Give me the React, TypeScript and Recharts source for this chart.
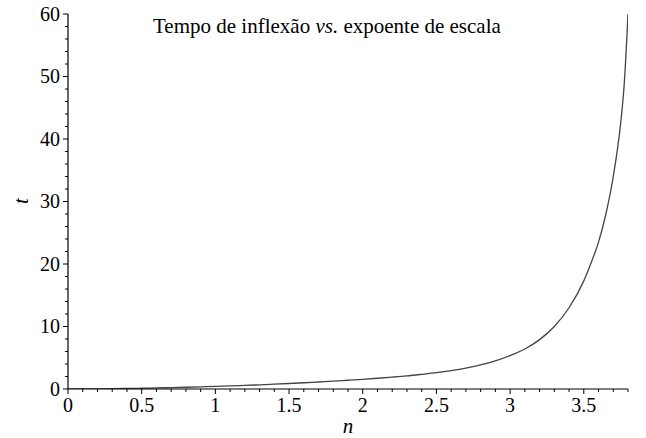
import React from 'react';
import { LineChart, Line, XAxis, YAxis } from 'recharts';

const nValues = [0, 0.1, 0.2, 0.3, 0.4, 0.5, 0.6, 0.7, 0.8, 0.9, 1.0, 1.1, 1.2, 1.3, 1.4, 1.5, 1.6, 1.7, 1.8, 1.9, 2.0, 2.1, 2.2, 2.3, 2.4, 2.5, 2.6, 2.7, 2.8, 2.9, 3.0, 3.1, 3.2, 3.3, 3.4, 3.5, 3.55, 3.6, 3.65, 3.7, 3.75, 3.775, 3.8];
const tValues = [0, 0.01, 0.03, 0.05, 0.08, 0.12, 0.17, 0.22, 0.28, 0.35, 0.42, 0.5, 0.58, 0.67, 0.77, 0.88, 1.0, 1.12, 1.25, 1.4, 1.55, 1.72, 1.9, 2.1, 2.35, 2.62, 2.95, 3.35, 3.85, 4.5, 5.35, 6.4, 7.9, 10.0, 13.0, 17.3, 20.2, 23.5, 28, 34, 42.5, 49, 60];

const xTicks = [0, 0.1, 0.2, 0.3, 0.4, 0.5, 0.6, 0.7, 0.8, 0.9, 1, 1.1, 1.2, 1.3, 1.4, 1.5, 1.6, 1.7, 1.8, 1.9, 2, 2.1, 2.2, 2.3, 2.4, 2.5, 2.6, 2.7, 2.8, 2.9, 3, 3.1, 3.2, 3.3, 3.4, 3.5, 3.6, 3.7, 3.8];
const xMajor = [0, 0.5, 1, 1.5, 2, 2.5, 3, 3.5];
const yTicks = [0, 2, 4, 6, 8, 10, 12, 14, 16, 18, 20, 22, 24, 26, 28, 30, 32, 34, 36, 38, 40, 42, 44, 46, 48, 50, 52, 54, 56, 58, 60];
const yMajor = [0, 10, 20, 30, 40, 50, 60];

const data = nValues.map((n, i) => ({ n, t: tValues[i] }));

const FONT = '"Liberation Serif", "Times New Roman", serif';
const FS = 20;

const isIn = (arr: number[], v: number) => arr.some((a) => Math.abs(a - v) < 1e-6);

const XTick = (props: any) => {
  const { x, y, payload } = props;
  const v = payload.value;
  const major = isIn(xMajor, v);
  return (
    <g>
      <line x1={x} x2={x} y1={y} y2={y + (major ? 5 : 3)} stroke="#000" strokeWidth={1} />
      {major && (
        <text x={x} y={y + 23} textAnchor="middle" fontFamily={FONT} fontSize={FS} fill="#000">
          {String(v)}
        </text>
      )}
    </g>
  );
};

const YTick = (props: any) => {
  const { x, y, payload } = props;
  const v = payload.value;
  const major = isIn(yMajor, v);
  return (
    <g>
      <line x1={x - (major ? 5 : 3)} x2={x} y1={y} y2={y} stroke="#000" strokeWidth={1} />
      {major && (
        <text x={x - 8} y={y + 6.5} textAnchor="end" fontFamily={FONT} fontSize={FS} fill="#000">
          {String(v)}
        </text>
      )}
    </g>
  );
};

export default function App() {
  return (
    <div style={{ position: 'absolute', left: 0, top: 0, width: 646, height: 438, background: '#fff' }}>
      <LineChart width={646} height={438} data={data} margin={{ top: 14, right: 18, bottom: 19, left: 0 }}>
        <XAxis
          dataKey="n"
          type="number"
          domain={[0, 3.8]}
          ticks={xTicks}
          interval={0}
          tickSize={0}
          tickMargin={0}
          tick={<XTick />}
          axisLine={{ stroke: '#000', strokeWidth: 1.2 }}
          tickLine={false}
          height={30}
          allowDataOverflow
        />
        <YAxis
          type="number"
          domain={[0, 60]}
          ticks={yTicks}
          interval={0}
          tickSize={0}
          tickMargin={0}
          tick={<YTick />}
          axisLine={{ stroke: '#000', strokeWidth: 1.2 }}
          tickLine={false}
          width={68}
          allowDataOverflow
        />
        <Line
          type="monotone"
          dataKey="t"
          stroke="#444"
          strokeWidth={1.3}
          dot={false}
          isAnimationActive={false}
        />
      </LineChart>
      <svg width={646} height={438} style={{ position: 'absolute', left: 0, top: 0, pointerEvents: 'none' }}>
        <text x={153} y={33} fontFamily={FONT} fontSize={21} fill="#000">
          Tempo de inflexão <tspan fontStyle="italic">vs.</tspan> expoente de escala
        </text>
        <text x={348} y={433} textAnchor="middle" fontFamily={FONT} fontSize={21} fontStyle="italic" fill="#000">
          n
        </text>
        <text
          x={28}
          y={201}
          textAnchor="middle"
          fontFamily={FONT}
          fontSize={21}
          fontStyle="italic"
          fill="#000"
          transform="rotate(-90 28 201)"
        >
          t
        </text>
      </svg>
    </div>
  );
}
